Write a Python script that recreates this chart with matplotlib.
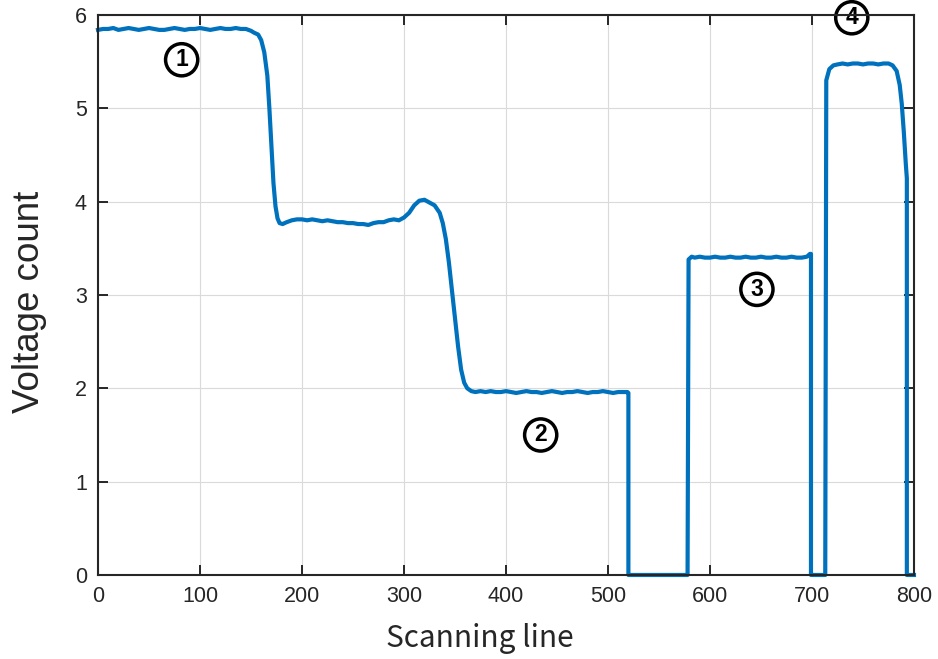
import matplotlib
matplotlib.use("Agg")
import matplotlib.pyplot as plt

plt.rcParams["font.family"] = ["Liberation Sans", "DejaVu Sans"]

# Scan profile: scanning line index vs. voltage count
scan_x = [
    0, 5, 10, 15, 20, 25, 30, 35, 40, 45, 50, 55, 60, 65, 70, 75, 80, 85, 90, 95,
    100, 105, 110, 115, 120, 125, 130, 135, 140, 145, 150, 153, 157, 160, 163, 166,
    168, 170, 172, 174, 176, 178, 181, 185, 190, 195, 200, 205, 210, 215, 220, 225,
    230, 235, 240, 245, 250, 255, 260, 265, 270, 275, 280, 285, 290, 295, 300, 305,
    310, 315, 320, 325, 330, 335, 338, 341, 344, 347, 350, 353, 356, 359, 362, 366,
    370, 375, 380, 385, 390, 395, 400, 405, 410, 415, 420, 425, 430, 435, 440, 445,
    450, 455, 460, 465, 470, 475, 480, 485, 490, 495, 500, 505, 510, 515, 519, 520,
    520, 578, 579, 582, 585, 590, 595, 600, 605, 610, 615, 620, 625, 630, 635, 640,
    645, 650, 655, 660, 665, 670, 675, 680, 685, 690, 695, 698, 699, 699, 713, 714,
    717, 721, 725, 730, 735, 740, 745, 750, 755, 760, 765, 770, 775, 779, 783, 786,
    788, 790, 792, 793, 793, 800,
]
voltage = [
    5.84, 5.85, 5.85, 5.86, 5.84, 5.85, 5.86, 5.85, 5.84, 5.85, 5.86, 5.85, 5.84, 5.84,
    5.85, 5.86, 5.85, 5.84, 5.85, 5.85, 5.86, 5.85, 5.84, 5.85, 5.86, 5.85, 5.85, 5.86,
    5.85, 5.85, 5.83, 5.81, 5.79, 5.73, 5.60, 5.35, 5.00, 4.60, 4.20, 3.95, 3.82, 3.77,
    3.76, 3.78, 3.80, 3.81, 3.81, 3.80, 3.81, 3.80, 3.79, 3.80, 3.79, 3.78, 3.78, 3.77,
    3.77, 3.76, 3.76, 3.75, 3.77, 3.78, 3.78, 3.80, 3.81, 3.80, 3.83, 3.88, 3.96, 4.01,
    4.02, 3.99, 3.96, 3.88, 3.77, 3.60, 3.35, 3.05, 2.75, 2.45, 2.20, 2.06, 2.00, 1.97,
    1.96, 1.97, 1.96, 1.97, 1.96, 1.96, 1.97, 1.96, 1.95, 1.96, 1.97, 1.96, 1.96, 1.95,
    1.96, 1.97, 1.96, 1.95, 1.96, 1.96, 1.97, 1.96, 1.95, 1.96, 1.96, 1.97, 1.96, 1.95,
    1.96, 1.96, 1.96, 1.95, 0.00, 0.00, 3.38, 3.41, 3.40, 3.41, 3.40, 3.40, 3.41, 3.40,
    3.40, 3.41, 3.40, 3.40, 3.41, 3.40, 3.40, 3.41, 3.40, 3.40, 3.41, 3.40, 3.40, 3.41,
    3.40, 3.40, 3.41, 3.44, 3.44, 0.00, 0.00, 5.30, 5.42, 5.46, 5.47, 5.48, 5.47, 5.48,
    5.48, 5.47, 5.48, 5.48, 5.47, 5.48, 5.48, 5.46, 5.40, 5.25, 5.05, 4.75, 4.40, 4.25,
    0.00, 0.00,
]

# Circled region markers
marker_text = ["1", "2", "3", "4"]
marker_x = [82, 434, 646, 739]
marker_y = [5.52, 1.50, 3.06, 5.97]

x_ticks = [0, 100, 200, 300, 400, 500, 600, 700, 800]
y_ticks = [0, 1, 2, 3, 4, 5, 6]

dark = "#262626"

fig = plt.figure(figsize=(9.38, 6.59), dpi=100)
ax = fig.add_axes([0.1045, 0.1275, 0.8699, 0.8498])

ax.plot(scan_x, voltage, color="#0072BD", lw=3.0, clip_on=False, zorder=3,
        solid_joinstyle="round")

for t, mx, my in zip(marker_text, marker_x, marker_y):
    ax.text(mx, my, t, fontsize=16.5, fontweight="bold", ha="center", va="center",
            color="black", zorder=4,
            bbox=dict(boxstyle="circle,pad=0.2", fc="none", ec="black", lw=2.5))

ax.set_xlim(0, 800)
ax.set_ylim(0, 6)
ax.set_xticks(x_ticks)
ax.set_yticks(y_ticks)
ax.grid(True, color="#dadada", lw=0.8)
ax.set_axisbelow(True)

ax.tick_params(direction="in", length=7, width=1.4, colors=dark, labelsize=15.5,
               pad=8, top=True, right=True)
for sp in ax.spines.values():
    sp.set_color(dark)
    sp.set_linewidth(1.5)
    sp.set_zorder(5)

ax.set_xlabel("Scanning line", fontsize=21.5, color=dark,
              family=["Noto Sans CJK SC", "DejaVu Sans"])
ax.xaxis.set_label_coords(0.468, -0.085)
ax.set_ylabel("Voltage count", fontsize=26.5, color=dark, family="Liberation Sans")
ax.yaxis.set_label_coords(-0.063, 0.4875)

fig.savefig("out.png", dpi=100)
